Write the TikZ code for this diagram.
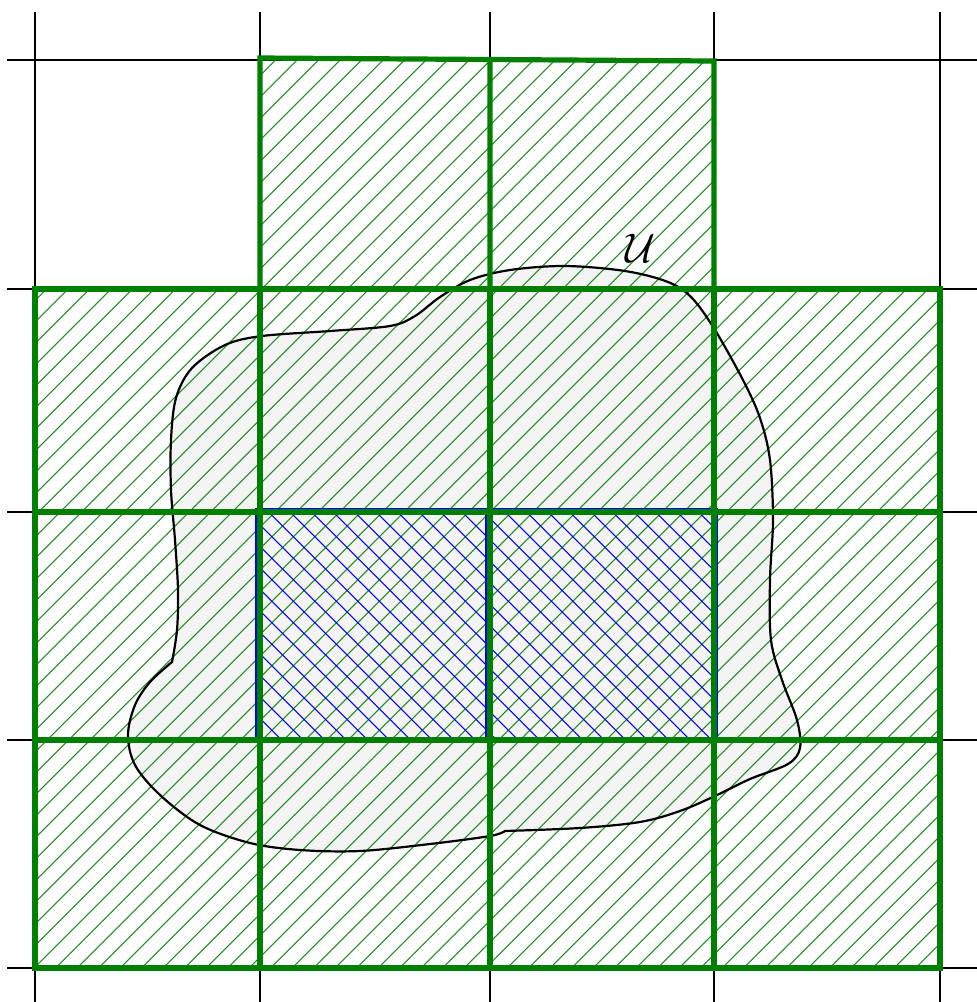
\documentclass[tikz,border=0pt]{standalone}
\definecolor{gborder}{RGB}{0,128,0}
\definecolor{ghatch}{RGB}{30,140,30}
\definecolor{blobfill}{RGB}{244,244,244}
\tikzset{
  gridline/.style={black, line width=0.6bp},
  gcell/.style={draw=gborder, line width=2.6bp},
  ghatchline/.style={ghatch, line width=0.55bp},
  bhatchline/.style={blue, line width=0.55bp},
  bcell/.style={draw=blue, line width=1.8bp},
  blobline/.style={black, line width=1.1bp},
}
\begin{document}
\begin{tikzpicture}[x=0.5bp,y=-0.5bp]
\useasboundingbox (0,0) rectangle (977,1002);
% grid
\foreach \x in {35,260,490,714,940} \draw[gridline] (\x,12) -- (\x,1002);
\foreach \y in {60,289,512,740,968} \draw[gridline] (7,\y) -- (977,\y);
% blob path
\def\blobpath{
  plot[smooth, tension=0.55] coordinates {(172,662) (177,630) (178,590) (175,540) (171,490) (171,440) (176,398) (192,368) (225,345) (262,336) (330,331) (390,326) (415,316) (440,297) (470,280) (510,270) (565,266) (625,271) (668,282) (692,298) (715,330) (743,380) (760,418) (770,460) (773,520) (770,580) (771,640) (782,680) (797,720) (800,748) (788,764) (750,779) (715,796) (680,811) (640,822) (580,828) (505,831)}
  -- plot[smooth, tension=0.55] coordinates {(505,831) (490,836) (430,844) (360,851) (300,850) (250,843) (200,825) (160,795) (135,765) (128,735) (135,705) (150,682) (172,662)} -- cycle}
\fill[blobfill] \blobpath;
% green hatching (lines x+y=c)
\begin{scope}
  \clip (260,58) -- (490,59.5) -- (714,61) -- (714,289) -- (940,289) -- (940,968) -- (35,968) -- (35,289) -- (260,289) -- cycle;
  \foreach \k in {0,...,95} {
    \pgfmathsetmacro{\c}{13.2+21.5*\k}
    \draw[ghatchline] (\c,0) -- ({\c-1100},1100);
  }
\end{scope}
% blue crosshatch (lines y-x=c)
\begin{scope}
  \clip (257,510) rectangle (716,741);
  \foreach \k in {-11,...,24} {
    \pgfmathsetmacro{\c}{6.8+21.5*\k}
    \draw[bhatchline] (0,\c) -- (1100,{\c+1100});
  }
\end{scope}
% blob outline
\draw[blobline] \blobpath;
% blue borders
\draw[bcell] (257,510) rectangle (488,741);
\draw[bcell] (487,510) rectangle (716,741);
% green borders
\draw[gcell] (260,58) -- (490,59.5) -- (490,289) -- (260,289) -- cycle;
\draw[gcell] (490,59.5) -- (714,61) -- (714,289) -- (490,289);
\foreach \x/\xx in {35/260,260/490,490/714,714/940}
  \foreach \y/\yy in {289/512,512/740,740/968}
    \draw[gcell] (\x,\y) rectangle (\xx,\yy);
% label
\node (U) at (640,248) {\fontsize{20.7}{25}\selectfont$\mathcal{U}$};
\end{tikzpicture}
\end{document}
